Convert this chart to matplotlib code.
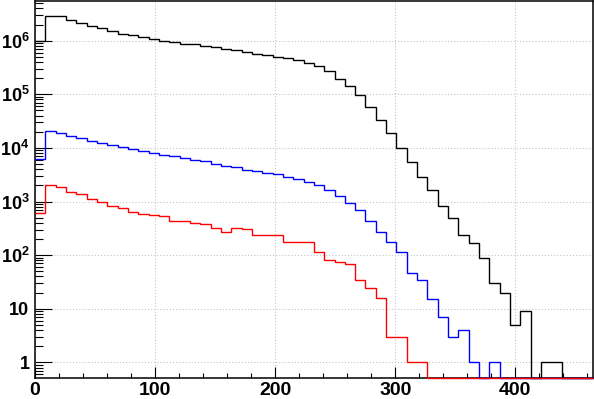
import numpy as np
import matplotlib
matplotlib.use("Agg")
import matplotlib.pyplot as plt
from matplotlib.ticker import MultipleLocator, LogLocator, FixedFormatter, FixedLocator

plt.rcParams['font.family'] = ['Liberation Sans', 'DejaVu Sans']
plt.rcParams['mathtext.fontset'] = 'custom'
plt.rcParams['mathtext.rm'] = 'Liberation Sans:bold'
plt.rcParams['mathtext.it'] = 'Liberation Sans:bold'
plt.rcParams['mathtext.bf'] = 'Liberation Sans:bold'

# histogram binning (54 bins)
bin_width = 8.6
n_bins = 54
x_max = 464.4

# bin contents
black = [1.0e6, 2.93e6, 2.93e6, 2.43e6, 2.11e6, 1.88e6, 1.70e6, 1.50e6, 1.35e6, 1.28e6,
         1.16e6, 1.06e6, 1.0e6, 9.3e5, 8.8e5, 8.6e5, 8.1e5, 7.5e5, 6.9e5, 6.6e5,
         6.1e5, 5.65e5, 5.4e5, 4.9e5, 4.7e5, 4.3e5, 3.84e5, 3.33e5, 2.72e5, 1.95e5,
         1.41e5, 9.6e4, 5.7e4, 3.3e4, 1.87e4, 9.8e3, 5.4e3, 2.83e3, 1.62e3, 824,
         486, 234, 166, 87, 30, 20, 5, 9, 0, 1,
         1, 0, 0, 0]
blue = [6209, 20400, 18720, 16450, 15100, 13270, 12190, 11190, 10260, 9420,
        8650, 7930, 7280, 6970, 6400, 5870, 5620, 5070, 4590, 4340,
        3820, 3660, 3360, 3220, 2860, 2600, 2280, 2030, 1620, 1270,
        937, 685, 433, 266, 173, 113, 47, 35, 15, 7,
        3, 4, 1, 0, 1, 0, 0, 0, 0, 0,
        0, 0, 0, 0]
red = [602, 2032, 1841, 1485, 1362, 1099, 991, 835, 747, 645,
       592, 567, 543, 438, 438, 392, 380, 316, 266, 316,
       303, 237, 237, 237, 173, 173, 173, 113, 82, 74,
       68, 34, 24, 16, 3, 3, 1, 1, 0, 0,
       0, 0, 0, 0, 0, 0, 0, 0, 0, 0,
       0, 0, 0, 0]

y_min, y_max = 0.51, 5.5e6
y_ticks = [1, 10, 1e2, 1e3, 1e4, 1e5, 1e6]
y_labels = ['1', '10', '$10^{2}$', '$10^{3}$', '$10^{4}$', '$10^{5}$', '$10^{6}$']

edges = np.arange(n_bins + 1) * bin_width

fig = plt.figure(figsize=(5.94, 3.99), dpi=100)
ax = fig.add_axes([35 / 594, 21 / 399, 557.7 / 594, 377 / 399])

for vals, col in [(black, 'black'), (blue, '#0000ff'), (red, '#ff0000')]:
    v = np.array(vals, dtype=float)
    v = np.where(v > 0, v, y_min)   # empty bins drawn on the bottom axis
    ax.stairs(v, edges, baseline=None, color=col, linewidth=1.0,
              zorder=3, clip_on=False)

ax.set_yscale('log')
ax.set_xlim(0, x_max)
ax.set_ylim(y_min, y_max)

ax.xaxis.set_major_locator(MultipleLocator(100))
ax.xaxis.set_minor_locator(MultipleLocator(20))
ax.yaxis.set_major_locator(FixedLocator(y_ticks))
ax.yaxis.set_major_formatter(FixedFormatter(y_labels))
ax.yaxis.set_minor_locator(LogLocator(base=10, subs=np.arange(2, 10), numticks=20))
ax.yaxis.set_minor_formatter(FixedFormatter([]))

ax.tick_params(axis='x', which='major', direction='in', length=8, width=0.8,
               labelsize=14, pad=3)
ax.tick_params(axis='x', which='minor', direction='in', length=3.8, width=0.8)
ax.tick_params(axis='y', which='major', direction='in', length=12, width=0.8,
               labelsize=13, pad=4)
ax.tick_params(axis='y', which='minor', direction='in', length=6, width=0.8)
for lab in ax.get_xticklabels() + ax.get_yticklabels():
    lab.set_fontweight('bold')

ax.grid(True, which='major', color='#c0c0c0', linestyle=(0, (1, 2)), linewidth=0.75)
ax.set_axisbelow(True)
for sp in ax.spines.values():
    sp.set_linewidth(1.1)

fig.savefig('out.png', dpi=100)
